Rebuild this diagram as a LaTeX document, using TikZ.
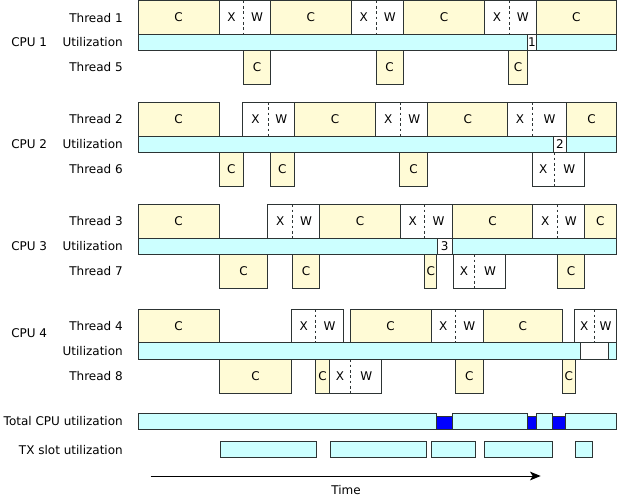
\documentclass[tikz,border=0pt]{standalone}
\usepackage{fontspec}
\setmainfont{DejaVu Sans}
\usepackage{xcolor}
\usetikzlibrary{arrows.meta}

\definecolor{cfill}{RGB}{255,251,214}
\definecolor{ufill}{RGB}{204,255,255}
\definecolor{edge}{RGB}{45,52,52}
\definecolor{waitblue}{RGB}{0,0,255}

\begin{document}
\begin{tikzpicture}[x=0.75pt,y=0.75pt,yscale=-1,xscale=1,
  font=\fontsize{9pt}{10pt}\selectfont,
  cb/.style={draw=edge,line width=0.75pt,fill=cfill},
  xw/.style={draw=edge,line width=0.75pt,fill=white},
  sep/.style={draw=edge,line width=0.6pt,dash pattern=on 2pt off 2pt},
  ub/.style={draw=edge,line width=0.75pt,fill=ufill},
  idle/.style={draw=edge,line width=0.75pt,fill=white},
  bb/.style={draw=edge,line width=0.75pt,fill=waitblue},
  lbl/.style={anchor=east,inner sep=0.75pt}]

\useasboundingbox (0,0) rectangle (617,496);

% row labels
\node[lbl] (th1) at (124,18) {Thread 1};
\node[lbl] (ut1) at (124,42) {Utilization};
\node[lbl] (th5) at (124,67) {Thread 5};
\node[anchor=west,inner sep=0.75pt] (cpu1) at (10,42) {CPU 1};

\node[lbl] (th2) at (124,119) {Thread 2};
\node[lbl] (ut2) at (124,144) {Utilization};
\node[lbl] (th6) at (124,169) {Thread 6};
\node[anchor=west,inner sep=0.75pt] (cpu2) at (10,144) {CPU 2};

\node[lbl] (th3) at (124,221) {Thread 3};
\node[lbl] (ut3) at (124,246) {Utilization};
\node[lbl] (th7) at (124,271) {Thread 7};
\node[anchor=west,inner sep=0.75pt] (cpu3) at (10,246) {CPU 3};

\node[lbl] (th4) at (124,326) {Thread 4};
\node[lbl] (ut4) at (124,351) {Utilization};
\node[lbl] (th8) at (124,376) {Thread 8};
\node[anchor=west,inner sep=0.75pt] (cpu4) at (10,333) {CPU 4};

\node[lbl] (total) at (124,421) {Total CPU utilization};
\node[lbl] (txslot) at (124,450) {TX slot utilization};

% CPU 1
\draw[cb] (138,0.5) rectangle (219.3,34) node[midway] {C};
\draw[xw] (219.3,0.5) rectangle (270.3,34);
\draw[sep] (243.7,0.5) -- (243.7,34);
\node at (231.5,17) {X}; \node at (257,17) {W};
\draw[cb] (270.3,0.5) rectangle (351.3,34) node[midway] {C};
\draw[xw] (351.3,0.5) rectangle (403.3,34);
\draw[sep] (376,0.5) -- (376,34);
\node at (363.7,17) {X}; \node at (389.7,17) {W};
\draw[cb] (403.3,0.5) rectangle (484.7,34) node[midway] {C};
\draw[xw] (484.7,0.5) rectangle (536.3,34);
\draw[sep] (509,0.5) -- (509,34);
\node at (496.9,17) {X}; \node at (522.7,17) {W};
\draw[cb] (536.3,0.5) rectangle (616.5,34) node[midway] {C};

\draw[ub] (138,34) rectangle (527.7,50.7);
\draw[idle] (527.7,34) rectangle (536.3,50.7) node[midway,inner sep=0pt] {1};
\draw[ub] (536.3,34) rectangle (616.5,50.7);

\draw[cb] (243.7,50.7) rectangle (270.3,84.3) node[midway] {C};
\draw[cb] (376,50.7) rectangle (403.3,84.3) node[midway] {C};
\draw[cb] (508.3,50.7) rectangle (527.7,84.3) node[midway] {C};

% CPU 2
\draw[cb] (138,102) rectangle (219.3,136) node[midway] {C};
\draw[xw] (242.7,102) rectangle (294.3,136);
\draw[sep] (268.3,102) -- (268.3,136);
\node at (255.5,119) {X}; \node at (281.3,119) {W};
\draw[cb] (294.3,102) rectangle (375.7,136) node[midway] {C};
\draw[xw] (375.7,102) rectangle (427.7,136);
\draw[sep] (400.7,102) -- (400.7,136);
\node at (388.2,119) {X}; \node at (414.2,119) {W};
\draw[cb] (427.7,102) rectangle (507.7,136) node[midway] {C};
\draw[xw] (507.7,102) rectangle (566.7,136);
\draw[sep] (532.3,102) -- (532.3,136);
\node at (520,119) {X}; \node at (549.5,119) {W};
\draw[cb] (566.7,102) rectangle (616.5,136) node[midway] {C};

\draw[ub] (138,136) rectangle (553.3,152.3);
\draw[idle] (553.3,136) rectangle (566.7,152.3) node[midway,inner sep=0pt] {2};
\draw[ub] (566.7,136) rectangle (616.5,152.3);

\draw[cb] (219.3,152.3) rectangle (243.3,186.7) node[midway] {C};
\draw[cb] (270.3,152.3) rectangle (294.3,186.7) node[midway] {C};
\draw[cb] (399.3,152.3) rectangle (427.7,186.7) node[midway] {C};
\draw[xw] (532.3,152.3) rectangle (584.3,186.7);
\draw[sep] (554,152.3) -- (554,186.7);
\node at (543.2,169.5) {X}; \node at (569.2,169.5) {W};

% CPU 3
\draw[cb] (138,204.3) rectangle (219.3,238.3) node[midway] {C};
\draw[xw] (267.7,204.3) rectangle (319.3,238.3);
\draw[sep] (292.7,204.3) -- (292.7,238.3);
\node at (280.2,221.3) {X}; \node at (306,221.3) {W};
\draw[cb] (319.3,204.3) rectangle (400.7,238.3) node[midway] {C};
\draw[xw] (400.7,204.3) rectangle (452.3,238.3);
\draw[sep] (424.7,204.3) -- (424.7,238.3);
\node at (412.7,221.3) {X}; \node at (438.5,221.3) {W};
\draw[cb] (452.3,204.3) rectangle (532.7,238.3) node[midway] {C};
\draw[xw] (532.7,204.3) rectangle (584,238.3);
\draw[sep] (557.7,204.3) -- (557.7,238.3);
\node at (545.2,221.3) {X}; \node at (570.8,221.3) {W};
\draw[cb] (584,204.3) rectangle (616.5,238.3) node[midway] {C};

\draw[ub] (138,238.3) rectangle (437.3,254.3);
\draw[idle] (437.3,238.3) rectangle (452.3,254.3) node[midway,inner sep=0pt] {3};
\draw[ub] (452.3,238.3) rectangle (616.5,254.3);

\draw[cb] (219.3,254.3) rectangle (267.7,288.3) node[midway] {C};
\draw[cb] (292.7,254.3) rectangle (319.3,288.3) node[midway] {C};
\draw[cb] (424.7,254.3) rectangle (436.7,288.3) node[midway] {C};
\draw[xw] (453.3,254.3) rectangle (505.3,288.3);
\draw[sep] (474.7,254.3) -- (474.7,288.3);
\node at (464,271.3) {X}; \node at (490,271.3) {W};
\draw[cb] (557.7,254.3) rectangle (584.3,288.3) node[midway] {C};

% CPU 4
\draw[cb] (138,309.3) rectangle (219.3,342.7) node[midway] {C};
\draw[xw] (291.7,309.3) rectangle (343.3,342.7);
\draw[sep] (315.7,309.3) -- (315.7,342.7);
\node at (303.7,326) {X}; \node at (329.5,326) {W};
\draw[cb] (350,309.3) rectangle (431,342.7) node[midway] {C};
\draw[xw] (431,309.3) rectangle (483.3,342.7);
\draw[sep] (455.3,309.3) -- (455.3,342.7);
\node at (443.2,326) {X}; \node at (469.3,326) {W};
\draw[cb] (483.3,309.3) rectangle (562.3,342.7) node[midway] {C};
\draw[xw] (574.3,309.3) rectangle (616.5,342.7);
\draw[sep] (594.3,309.3) -- (594.3,342.7);
\node at (584.3,326) {X}; \node at (605.5,326) {W};

\draw[ub] (138,342.7) rectangle (580,359.3);
\draw[idle] (580,342.7) rectangle (608.3,359.3);
\draw[ub] (608.3,342.7) rectangle (616.5,359.3);

\draw[cb] (219.3,359.3) rectangle (291.7,393.3) node[midway] {C};
\draw[cb] (315.7,359.3) rectangle (329.3,393.3) node[midway] {C};
\draw[xw] (329.3,359.3) rectangle (381.7,393.3);
\draw[sep] (350.7,359.3) -- (350.7,393.3);
\node at (340,376.3) {X}; \node at (366.2,376.3) {W};
\draw[cb] (455.3,359.3) rectangle (483.3,393.3) node[midway] {C};
\draw[cb] (562.3,359.3) rectangle (575.3,393.3) node[midway] {C};

% total CPU utilization
\draw[ub] (138,413.3) rectangle (436.7,429.3);
\draw[bb] (436.7,416) rectangle (452.3,429.3);
\draw[ub] (452.3,413.3) rectangle (527.7,429.3);
\draw[bb] (527.7,416) rectangle (536,429.3);
\draw[ub] (536,413.3) rectangle (552.7,429.3);
\draw[bb] (552.7,416) rectangle (565.7,429.3);
\draw[ub] (565.7,413.3) rectangle (616.5,429.3);

% TX slots
\draw[ub] (220.3,441.7) rectangle (316.7,457.7);
\draw[ub] (330.3,441.7) rectangle (426.7,457.7);
\draw[ub] (431.3,441.7) rectangle (475.7,457.7);
\draw[ub] (484.3,441.7) rectangle (552.3,457.7);
\draw[ub] (575.3,441.7) rectangle (592.3,457.7);

% time axis
\coordinate (tstart) at (150.7,476);
\coordinate (tend) at (540.7,476);
\draw[line width=0.75pt,-{Stealth[length=8pt,width=6.5pt,inset=2pt]}] (tstart) -- (tend);
\node[inner sep=0.75pt] (time) at (346,490) {Time};

\end{tikzpicture}
\end{document}
